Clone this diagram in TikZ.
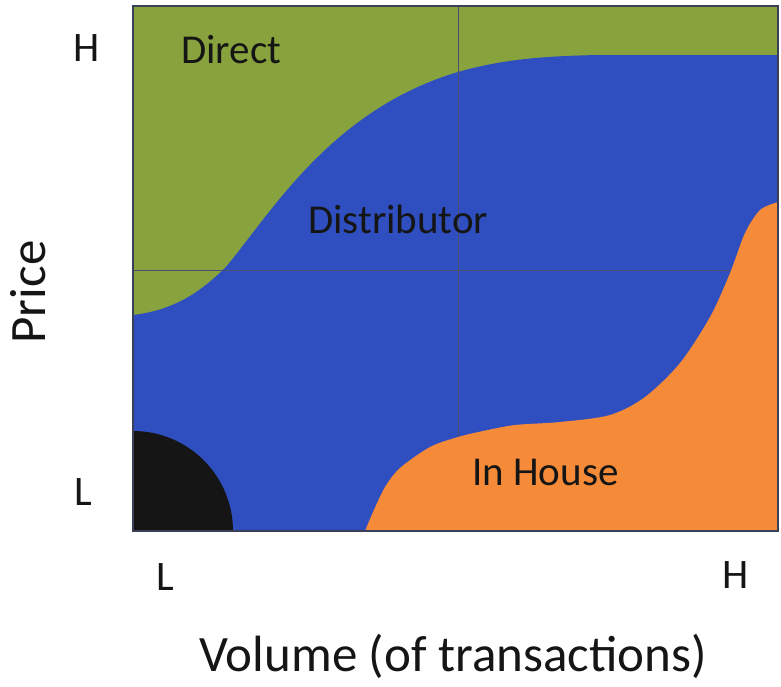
\documentclass[tikz,border=0pt]{standalone}
\usepackage{fontspec}
\setmainfont{Carlito}
\usepackage{tikz}
\usetikzlibrary{positioning}
\definecolor{directGreen}{HTML}{88A33D}
\definecolor{distBlue}{HTML}{2F4EC0}
\definecolor{houseOrange}{HTML}{F58A38}
\definecolor{gridGray}{HTML}{4A5070}
\definecolor{inkDark}{HTML}{151515}
\tikzset{
  region/.style={inner sep=0pt,text=inkDark,font=\fontsize{41}{46}\selectfont},
  axislbl/.style={inner sep=0pt,text=inkDark,font=\fontsize{42}{48}\selectfont},
  axistitle/.style={inner sep=0pt,text=inkDark,font=\fontsize{51}{58}\selectfont}
}

\begin{document}
\begin{tikzpicture}[x=1pt,y=-1pt]
  \useasboundingbox (0,0) rectangle (781,686);
  \coordinate (tl) at (133,6);
  \coordinate (br) at (778,531);
  \begin{scope}
    \clip (tl) rectangle (br);
    \fill[directGreen] (tl) rectangle (br);
    % distributor band
    \fill[distBlue] (133,315) .. controls (175,310) and (200,292) .. (225,268)
      .. controls (270,215) and (330,110) .. (458,72)
      .. controls (500,60) and (540,56) .. (600,55) -- (778,55)
      -- (778,531) -- (133,531) -- cycle;
    \draw[gridGray,line width=0.8pt] (458,6) -- (458,531) (133,270) -- (778,270);
    % in house
    \fill[houseOrange] plot[smooth,tension=0.5] coordinates {(365,531) (373,512) (385,487) (400,468) (430,447) (458,437) (483,431) (515,425) (560,422) (610,415) (645,397) (680,363) (710,317) (730,273) (745,233) (760,210) (778,202)}
      -- (778,531) -- cycle;
    \fill[inkDark] (133,531) circle[radius=100pt];
  \end{scope}
  \draw[gridGray!80!black,line width=1.4pt] (tl) rectangle (br);

  \node[region,anchor=base west] (direct) at (181,63) {Direct};
  \node[region,anchor=base west] (distributor) at (308,233) {Distributor};
  \node[region,anchor=base west] (inhouse) at (472,485) {In House};

  \node[axislbl,anchor=base] (priceH) at (87,61) {H};
  \node[axislbl,anchor=base] (priceL) at (83,505) {L};
  \node[axislbl,anchor=base] (volL) at (165,590) {L};
  \node[axislbl,anchor=base] (volH) at (736,588) {H};

  \node[axistitle,anchor=base,rotate=90] (price) at (45,292) {Price};
  \node[axistitle,anchor=base] (volume) at (453,671) {Volume (of transactions)};
\end{tikzpicture}
\end{document}
